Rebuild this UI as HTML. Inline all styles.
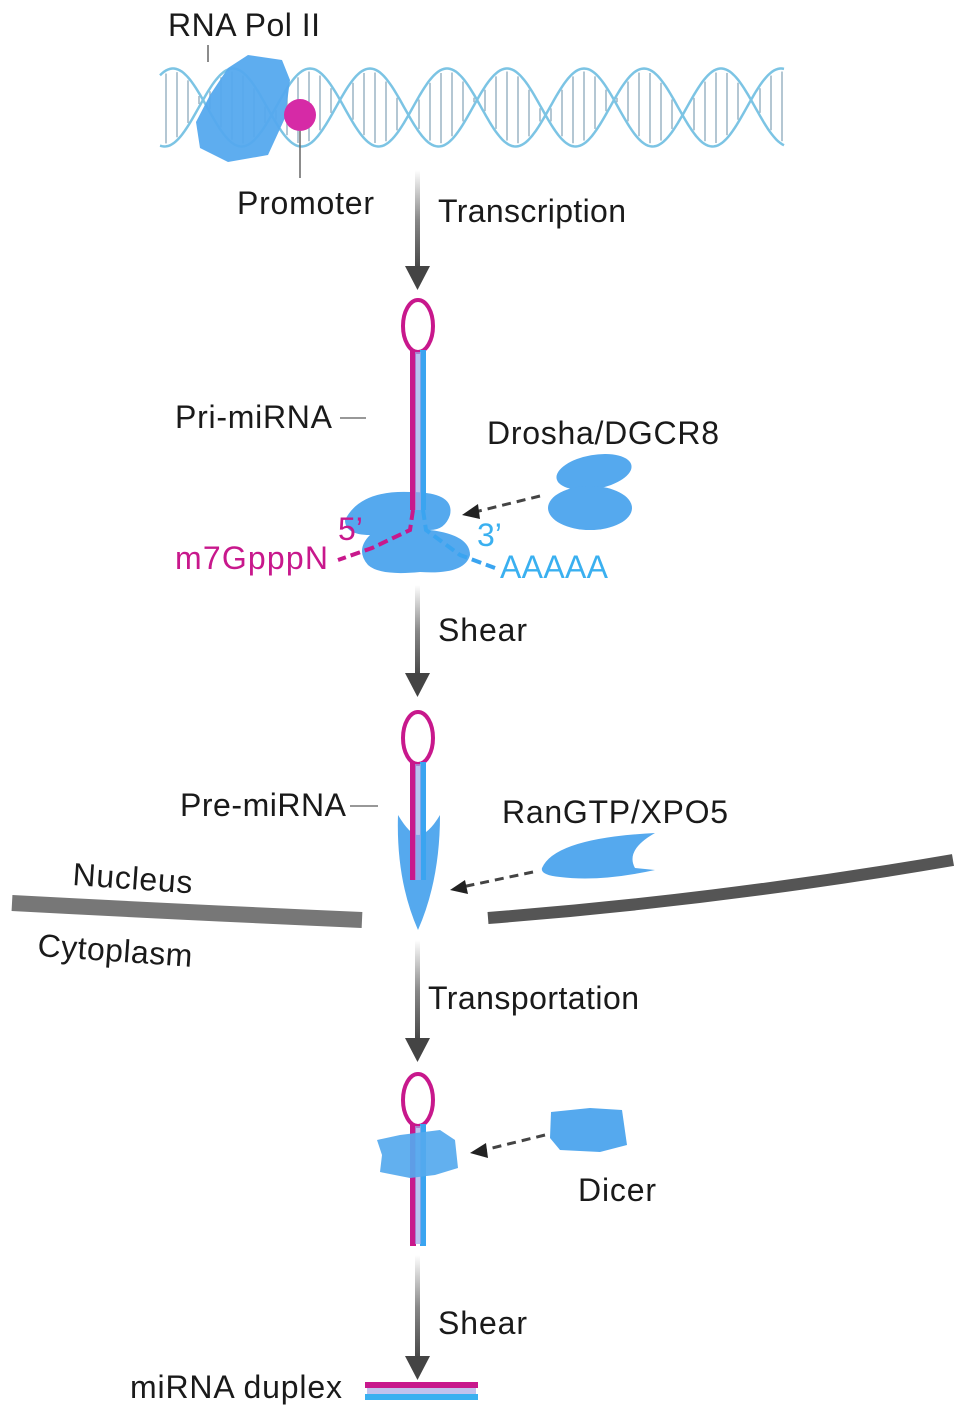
<!DOCTYPE html>
<html><head><meta charset="utf-8"><style>
html,body{margin:0;padding:0;background:#fff;}
svg{display:block}
text{font-family:"Liberation Sans",sans-serif;font-size:32px;fill:#1a1a1a}
</style></head><body>
<svg id="s" width="969" height="1425" viewBox="0 0 969 1425" xmlns="http://www.w3.org/2000/svg">
<defs>
<linearGradient id="ag" x1="0" y1="0" x2="0" y2="1"><stop offset="0" stop-color="#fff"/><stop offset="0.5" stop-color="#888"/><stop offset="1" stop-color="#444"/></linearGradient>
</defs>
<g id="dna"></g>
<!-- Pol II -->
<polygon points="248,55 282,60 290,80 285,118 268,155 228,162 200,148 196,122 210,95 228,68" fill="#55a9ee" opacity="0.95"/>
<line x1="208" y1="45" x2="208" y2="62" stroke="#666" stroke-width="1.5"/>
<circle cx="300" cy="115" r="16" fill="#d62aa6"/>
<line x1="300" y1="131" x2="300" y2="178" stroke="#666" stroke-width="1.5"/>
<text x="168" y="36" textLength="152">RNA Pol II</text>
<text x="237" y="214" textLength="137">Promoter</text>
<text x="438" y="222" textLength="188">Transcription</text>
<g id="arrows"></g>
<!-- Pri-miRNA -->
<ellipse cx="418" cy="326" rx="15" ry="26" fill="none" stroke="#c8188c" stroke-width="4"/>
<path d="M345,520 Q360,490 410,492 Q455,492 450,515 Q445,530 430,530 Q470,535 470,555 Q465,575 420,572 Q380,576 368,565 Q355,550 370,535 Q345,535 345,520Z" fill="#55a9ee"/>
<rect x="410" y="350" width="6" height="160" fill="#c8188c"/>
<rect x="420" y="350" width="6" height="160" fill="#3aa4f0"/>
<rect x="415" y="352" width="6" height="158" fill="#9aa8e8" opacity="0.7"/>
<path d="M413,510 L410,530 L372,548 L338,560" fill="none" stroke="#c8188c" stroke-width="4" stroke-dasharray="10,5"/>
<path d="M423,510 L426,530 L460,555 L495,568" fill="none" stroke="#3aa4f0" stroke-width="4" stroke-dasharray="10,5"/>
<text x="338" y="540" style="fill:#c8188c">5’</text>
<text x="477" y="546" style="fill:#3ab0f0">3’</text>
<text x="175" y="569" textLength="153" style="fill:#c8188c">m7GpppN</text>
<text x="500" y="578" textLength="108" style="fill:#3ab0f0">AAAAA</text>
<text x="175" y="428" textLength="157">Pri-miRNA</text>
<line x1="340" y1="418" x2="366" y2="418" stroke="#777" stroke-width="1.5"/>
<text x="487" y="444" textLength="232">Drosha/DGCR8</text>
<ellipse cx="594" cy="472" rx="38" ry="17" fill="#55a9ee" transform="rotate(-10 594 472)"/>
<ellipse cx="590" cy="508" rx="42" ry="22" fill="#55a9ee"/>
<line x1="540" y1="496" x2="475" y2="512" stroke="#444" stroke-width="3" stroke-dasharray="9,6"/>
<polygon points="462,515 478,504 480,519" fill="#222"/>
<text x="438" y="641" textLength="89">Shear</text>
<!-- Pre-miRNA -->
<ellipse cx="418" cy="738" rx="15" ry="26" fill="none" stroke="#c8188c" stroke-width="4"/>
<path d="M398,815 Q410,835 418,835 Q428,835 440,815 Q440,880 418,930 Q396,880 398,815Z" fill="#55a9ee"/>
<rect x="410" y="762" width="6" height="118" fill="#c8188c"/>
<rect x="420" y="762" width="6" height="118" fill="#3aa4f0"/>
<rect x="415" y="764" width="6" height="116" fill="#9aa8e8" opacity="0.7"/>
<text x="180" y="816" textLength="166">Pre-miRNA</text>
<line x1="350" y1="806" x2="378" y2="806" stroke="#777" stroke-width="1.5"/>
<text x="502" y="823" textLength="226">RanGTP/XPO5</text>
<path d="M542,868 Q555,838 655,833 Q625,850 635,868 L655,870 Q600,882 560,877 Q540,875 542,868Z" fill="#55a9ee"/>
<line x1="533" y1="872" x2="462" y2="887" stroke="#444" stroke-width="3" stroke-dasharray="9,6"/>
<polygon points="450,890 465,880 468,894" fill="#222"/>
<path d="M12,903 Q180,912 362,920" fill="none" stroke="#777" stroke-width="16"/>
<path d="M488,918 Q720,900 953,860" fill="none" stroke="#555" stroke-width="12"/>
<text x="72" y="885" textLength="120" transform="rotate(4 72 885)">Nucleus</text>
<text x="37" y="956" textLength="155" transform="rotate(4 37 956)">Cytoplasm</text>
<text x="428" y="1009" textLength="211">Transportation</text>
<!-- Dicer stage -->
<ellipse cx="418" cy="1100" rx="15" ry="26" fill="none" stroke="#c8188c" stroke-width="4"/>
<rect x="410" y="1124" width="6" height="122" fill="#c8188c"/>
<rect x="420" y="1124" width="6" height="122" fill="#3aa4f0"/>
<rect x="415" y="1126" width="6" height="118" fill="#9aa8e8" opacity="0.7"/>
<polygon points="377,1140 400,1135 440,1130 455,1140 458,1168 435,1175 410,1178 380,1172 382,1155" fill="#55a9ee" opacity="0.92"/>
<polygon points="551,1112 590,1108 622,1110 627,1145 600,1152 560,1150 550,1138" fill="#55a9ee"/>
<line x1="545" y1="1135" x2="484" y2="1150" stroke="#444" stroke-width="3" stroke-dasharray="9,6"/>
<polygon points="470,1153 486,1143 488,1158" fill="#222"/>
<text x="578" y="1201" textLength="78">Dicer</text>
<text x="438" y="1334" textLength="89">Shear</text>
<text x="130" y="1398" textLength="212">miRNA duplex</text>
<rect x="365" y="1382" width="113" height="6" fill="#c8188c"/>
<rect x="365" y="1394" width="113" height="6" fill="#3ab0f0"/>
<rect x="367" y="1388" width="109" height="6" fill="#a7a8e6" opacity="0.7"/>
</svg>
<script>
(function(){
var ns="http://www.w3.org/2000/svg",g=document.getElementById('dna');
var P=137,ph=2.75;
function f(x,s){var t=2*Math.PI*(x-370)/P+Math.PI/2;return 107.5-39*Math.sin(t+(s<0?ph:0));}
[1,-1].forEach(function(s){var d="";for(var x=160;x<=785;x+=2){d+=(x==160?"M":"L")+x+","+f(x,s).toFixed(1);}
var p=document.createElementNS(ns,'path');p.setAttribute('d',d);p.setAttribute('fill','none');p.setAttribute('stroke','#7cc4e4');p.setAttribute('stroke-width','2.5');g.appendChild(p);});
for(var x=166;x<785;x+=11){var a=f(x,1),b=f(x,-1);if(Math.abs(a-b)<8)continue;var l=document.createElementNS(ns,'line');l.setAttribute('x1',x);l.setAttribute('x2',x);l.setAttribute('y1',Math.min(a,b)+3);l.setAttribute('y2',Math.max(a,b)-3);l.setAttribute('stroke','#9ab4c4');l.setAttribute('stroke-width','1.5');g.appendChild(l);}
var ar=document.getElementById('arrows');
[[170,290],[585,697],[940,1062],[1255,1380]].forEach(function(a){
var r=document.createElementNS(ns,'rect');r.setAttribute('x',415);r.setAttribute('y',a[0]);r.setAttribute('width',5);r.setAttribute('height',a[1]-a[0]-20);r.setAttribute('fill','url(#ag)');ar.appendChild(r);
var p=document.createElementNS(ns,'polygon');p.setAttribute('points',"405,"+(a[1]-24)+" 430,"+(a[1]-24)+" 417.5,"+a[1]);p.setAttribute('fill','#444');ar.appendChild(p);});
})();
</script>
</body></html>
